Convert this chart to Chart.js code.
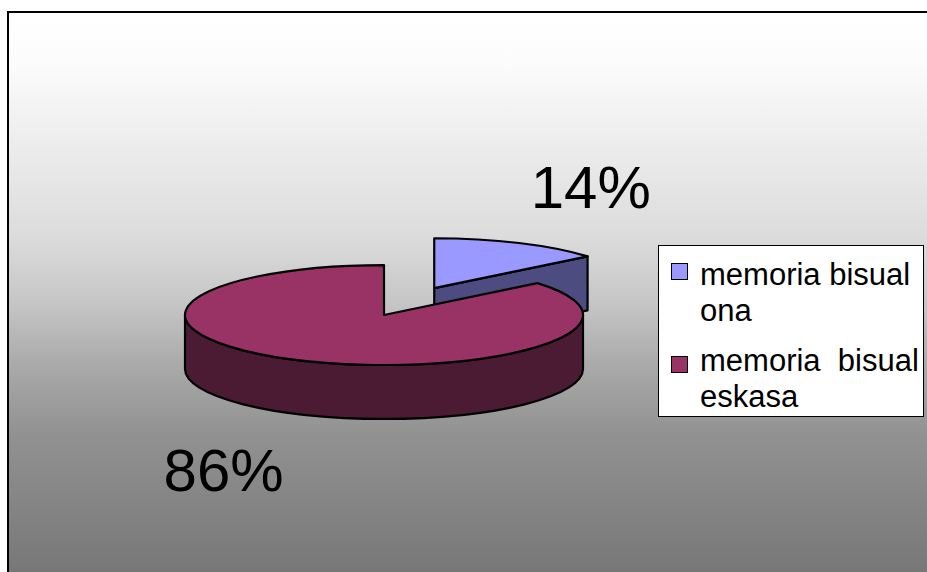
<!DOCTYPE html>
<html>
<head>
<meta charset="utf-8">
<script src="https://cdn.jsdelivr.net/npm/chart.js@4"></script>
<style>
  html, body { margin: 0; padding: 0; overflow: hidden; background: #fff; font-family: "Liberation Sans", Arial, sans-serif; }
  #wrap { position: fixed; left: 0; top: 0; right: 0; bottom: 0; overflow: hidden; }
  #frame {
    position: absolute; left: 7px; top: 11px; right: -40px; bottom: -40px;
    border-left: 2px solid #000; border-top: 2px solid #000;
    background: linear-gradient(to bottom,
      #ffffff 0px, #fcfcfc 50px, #f4f4f4 90px, #dcdcdc 222px, #c6c6c6 289px,
      #a8a8a8 356px, #919191 422px, #858585 489px, #777777 561px, #757575 600px);
  }
  #chart { position: absolute; left: 0; top: 0; }
  #legend {
    position: absolute; left: 658px; top: 245px; width: 266px; height: 172px;
    border: 1.5px solid #000; background: #fff; box-sizing: border-box;
  }
  .item { position: absolute; left: 0; }
  .box { position: absolute; left: 12px; width: 17px; height: 17px; border: 1px solid #000; box-sizing: border-box; }
  .txt { position: absolute; left: 41px; font-size: 31px; line-height: 36px; white-space: pre; color: #000; }
</style>
</head>
<body>
<div id="wrap">
  <div id="frame"></div>
  <canvas id="chart" width="927" height="572"></canvas>
  <div id="legend"></div>
</div>
<script>
// chart data
const labels = [['memoria bisual', 'ona'], ['memoria  bisual', 'eskasa']];
const values = [14, 86];
const topColors = ['#9999ff', '#993366'];
const sideColors = ['#4c4c80', '#4b1a33'];

// draws the pie as a tilted 3D disc, first slice pulled out
const pie3d = {
    id: 'pie3d',
    beforeDatasetDraw(chart, args, opts) {
        const ctx = chart.ctx;
        const arcs = args.meta.data;
        const k = opts.tilt;
        const depth = opts.depth;
        const total = values.reduce((a, b) => a + b, 0);

        const slices = arcs.map((arc, i) => {
            const p = arc.getProps(['x', 'y', 'startAngle', 'endAngle', 'outerRadius'], true);
            const half = (p.startAngle + p.endAngle) / 2;
            const e = opts.explode[i] || 0;
            return {
                i: i,
                cx: p.x + Math.cos(half) * e,
                cy: p.y + Math.sin(half) * e * k,
                r: p.outerRadius,
                a0: p.startAngle,
                a1: p.endAngle,
                half: half
            };
        });

        ctx.save();
        ctx.lineWidth = opts.lineWidth;
        ctx.lineJoin = 'round';
        ctx.strokeStyle = '#000';

        slices.forEach(s => {
            const ry = s.r * k;
            // cut faces
            [[s.a0, -1], [s.a1, 1]].forEach(([a, dir]) => {
                const ny = dir * Math.cos(a);
                if (ny <= 0.001) return;
                const rx0 = s.cx + Math.cos(a) * s.r;
                const ry0 = s.cy + Math.sin(a) * ry;
                ctx.beginPath();
                ctx.moveTo(s.cx, s.cy);
                ctx.lineTo(rx0, ry0);
                ctx.lineTo(rx0, ry0 + depth);
                ctx.lineTo(s.cx, s.cy + depth);
                ctx.closePath();
                ctx.fillStyle = sideColors[s.i];
                ctx.fill();
                ctx.stroke();
            });
            // front curved side
            const from = Math.max(s.a0, 0);
            const to = Math.min(s.a1, Math.PI);
            if (to > from) {
                ctx.beginPath();
                ctx.ellipse(s.cx, s.cy, s.r, ry, 0, from, to, false);
                ctx.ellipse(s.cx, s.cy + depth, s.r, ry, 0, to, from, true);
                ctx.closePath();
                ctx.fillStyle = sideColors[s.i];
                ctx.fill();
                ctx.stroke();
            }
            // top face
            ctx.beginPath();
            ctx.moveTo(s.cx, s.cy);
            ctx.ellipse(s.cx, s.cy, s.r, ry, 0, s.a0, s.a1, false);
            ctx.closePath();
            ctx.fillStyle = topColors[s.i];
            ctx.fill();
            ctx.stroke();
        });

        // percentage labels
        ctx.fillStyle = '#000';
        ctx.font = '60px "Liberation Sans", Arial, sans-serif';
        ctx.textAlign = 'center';
        ctx.textBaseline = 'alphabetic';
        slices.forEach(s => {
            const ry = s.r * k;
            const sin = Math.sin(s.half);
            const lx = s.cx + Math.cos(s.half) * s.r * opts.labelX;
            const ly = s.cy + sin * ry * opts.labelY + (sin > 0 ? depth : 0);
            const pct = Math.round(values[s.i] / total * 100) + '%';
            ctx.fillText(pct, lx - 2, ly + 21);
        });
        ctx.restore();
        return false;
    }
};

const ctx = document.getElementById('chart').getContext('2d');
new Chart(ctx, {
    type: 'pie',
    data: {
        labels: labels,
        datasets: [{
            data: values,
            backgroundColor: topColors,
            borderWidth: 0,
            hoverBorderWidth: 0
        }]
    },
    options: {
        responsive: false,
        animation: false,
        devicePixelRatio: 1,
        events: [],
        layout: { padding: { left: 185, right: 344, top: 116, bottom: 58 } },
        plugins: {
            legend: { display: false },
            tooltip: { enabled: false },
            pie3d: { tilt: 0.251, depth: 54, explode: [118, 0], lineWidth: 2.2, labelX: 1.87, labelY: 2.24 }
        }
    },
    plugins: [pie3d]
});

// legend box
const legend = document.getElementById('legend');
const rows = [{ box: 17, text: 11 }, { box: 110, text: 97 }];
labels.forEach((lines, i) => {
    const item = document.createElement('div');
    item.className = 'item';
    const box = document.createElement('div');
    box.className = 'box';
    box.style.top = rows[i].box + 'px';
    box.style.background = topColors[i];
    const txt = document.createElement('div');
    txt.className = 'txt';
    txt.style.top = rows[i].text + 'px';
    txt.textContent = lines.join('\n');
    item.appendChild(box);
    item.appendChild(txt);
    legend.appendChild(item);
});
</script>
</body>
</html>
